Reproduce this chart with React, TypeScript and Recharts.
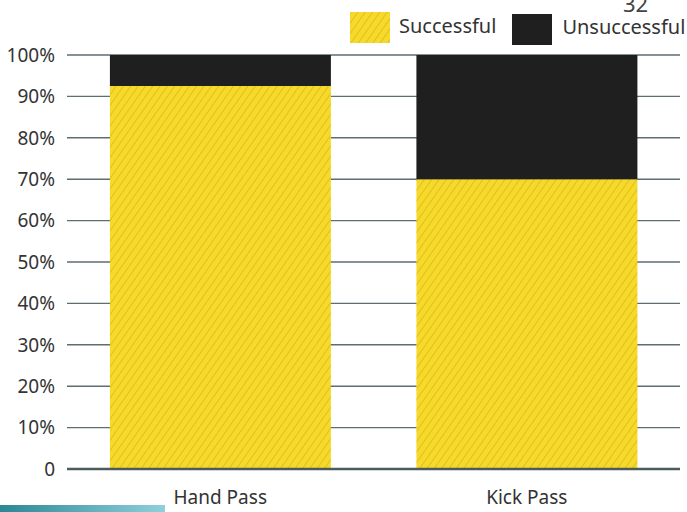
import { BarChart, Bar, XAxis, YAxis, CartesianGrid } from 'recharts'

const CATEGORIES = ['Hand Pass', 'Kick Pass']
const SUCCESSFUL = [92.5, 70]
const UNSUCCESSFUL = [7.5, 30]
const Y_TICKS = [0, 10, 20, 30, 40, 50, 60, 70, 80, 90, 100]
const LEGEND = ['Successful', 'Unsuccessful']

const YELLOW = '#f6d92a'
const HATCH = '#c9aa10'
const DARK = '#1f1f1f'
const TEXT = '#333333'
const FONT = '"Noto Sans", "Open Sans", sans-serif'

const data = CATEGORIES.map((name, i) => ({
  name,
  successful: SUCCESSFUL[i],
  unsuccessful: UNSUCCESSFUL[i],
}))

function Hatch({ id }: { id: string }) {
  return (
    <pattern id={id} width="6" height="6" patternUnits="userSpaceOnUse" patternTransform="rotate(35)">
      <rect width="6" height="6" fill={YELLOW} />
      <line x1="0" y1="0" x2="0" y2="6" stroke={HATCH} strokeWidth="1" />
    </pattern>
  )
}

export default function App() {
  return (
    <div style={{ position: 'absolute', left: 0, top: 0, width: 687, height: 512, overflow: 'hidden', background: '#fff', fontFamily: FONT }}>
      <BarChart
        width={687}
        height={512}
        data={data}
        margin={{ top: 55, right: 7, left: 0, bottom: 13 }}
        barCategoryGap="14%"
      >
        <defs>
          <Hatch id="hatchYellow" />
        </defs>
        <CartesianGrid vertical={false} stroke="#5d6d70" strokeWidth={1.4} />
        <XAxis
          dataKey="name"
          height={30}
          tickLine={false}
          axisLine={{ stroke: '#4c5b5e', strokeWidth: 2.5 }}
          tickMargin={16}
          tick={{ fill: TEXT, fontSize: 19, fontFamily: FONT }}
        />
        <YAxis
          width={67}
          domain={[0, 100]}
          ticks={Y_TICKS}
          interval={0}
          tickLine={false}
          axisLine={false}
          tickMargin={6}
          tickFormatter={(v: number) => (v === 0 ? '0' : `${v}%`)}
          tick={{ fill: TEXT, fontSize: 19, fontFamily: FONT }}
        />
        <Bar dataKey="successful" stackId="a" fill="url(#hatchYellow)" isAnimationActive={false} />
        <Bar dataKey="unsuccessful" stackId="a" fill={DARK} isAnimationActive={false} />
      </BarChart>

      <div style={{ position: 'absolute', top: 10, left: 350, display: 'flex', alignItems: 'center', color: TEXT, fontSize: 20, lineHeight: 1 }}>
        <svg width={40} height={31} style={{ marginRight: 9 }}>
          <defs>
            <Hatch id="hatchLegend" />
          </defs>
          <rect width={40} height={31} fill="url(#hatchLegend)" />
        </svg>
        <span style={{ marginRight: 16, marginTop: -4 }}>{LEGEND[0]}</span>
        <svg width={40} height={31} style={{ marginRight: 10, marginTop: 4 }}>
          <rect width={40} height={31} fill={DARK} />
        </svg>
        <span style={{ marginTop: -2 }}>{LEGEND[1]}</span>
      </div>

      <div style={{ position: 'absolute', top: -8, left: 623, fontSize: 22, lineHeight: 1, color: '#444' }}>32</div>
      <div
        style={{
          position: 'absolute',
          left: 0,
          top: 505,
          width: 165,
          height: 7,
          background: 'linear-gradient(90deg, #2d8796, #8fd0db)',
        }}
      />
    </div>
  )
}
